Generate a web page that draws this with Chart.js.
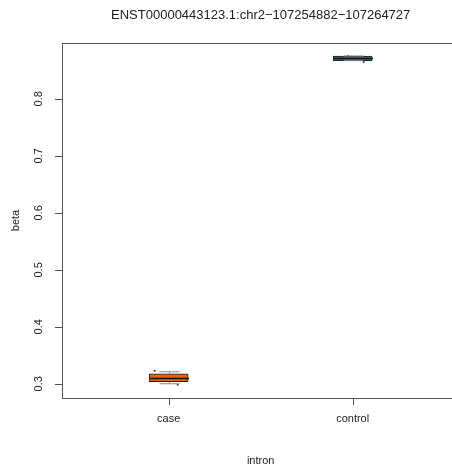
<!DOCTYPE html>
<html>
<head>
<meta charset="utf-8">
<script src="https://cdn.jsdelivr.net/npm/chart.js@4.4.1/dist/chart.umd.min.js"></script>
<style>
  html, body { margin: 0; padding: 0; background: #fff; overflow: hidden; }
</style>
</head>
<body>
<canvas id="boxChart" width="452" height="468"></canvas>
<script>
// data
const groups = ['case', 'control'];
const lowerWhisker = [0.300, 0.867];
const q1 = [0.3035, 0.867];
const median = [0.3105, 0.8717];
const q3 = [0.3175, 0.8752];
const upperWhisker = [0.321, 0.8752];
const pointX = [0.924, 1.049, 1.973, 2.06];
const pointY = [0.3227, 0.2983, 0.8752, 0.8647];
const yTicks = [0.3, 0.4, 0.5, 0.6, 0.7, 0.8];
const boxColors = ['#E3630F', '#13857D'];

const titleText = 'ENST00000443123.1:chr2\u2212107254882\u2212107264727';
const FONT = '"Liberation Sans", Arial, sans-serif';

// whiskers, caps, median line
const boxExtras = {
  id: 'boxExtras',
  afterDatasetsDraw(chart) {
    const { ctx, scales: { x, y } } = chart;
    ctx.save();
    groups.forEach((g, i) => {
      const cx = Math.round(x.getPixelForValue(i + 1)) + 0.5;
      ctx.strokeStyle = '#8a8a8a';
      ctx.lineWidth = 1;
      ctx.beginPath();
      ctx.moveTo(cx, y.getPixelForValue(q3[i]));
      ctx.lineTo(cx, y.getPixelForValue(upperWhisker[i]));
      ctx.moveTo(cx, y.getPixelForValue(q1[i]));
      ctx.lineTo(cx, y.getPixelForValue(lowerWhisker[i]));
      ctx.moveTo(cx - 10, y.getPixelForValue(upperWhisker[i]));
      ctx.lineTo(cx + 10, y.getPixelForValue(upperWhisker[i]));
      ctx.moveTo(cx - 10, y.getPixelForValue(lowerWhisker[i]));
      ctx.lineTo(cx + 10, y.getPixelForValue(lowerWhisker[i]));
      ctx.stroke();
      const my = Math.round(y.getPixelForValue(median[i])) + 0.5;
      ctx.strokeStyle = '#111';
      ctx.lineWidth = 1.5;
      ctx.beginPath();
      ctx.moveTo(cx - 19.5, my);
      ctx.lineTo(cx + 19.5, my);
      ctx.stroke();
    });
    ctx.restore();
  }
};

// R-style frame (right side falls outside the picture), ticks and labels
const rAxes = {
  id: 'rAxes',
  afterDraw(chart) {
    const { ctx, chartArea: a, scales: { x, y } } = chart;
    ctx.save();
    // keep the strip inside the right edge clean
    ctx.fillStyle = '#fff';
    ctx.fillRect(a.right - 4, a.top + 1, 4, a.bottom - a.top - 1);

    ctx.fillStyle = '#555';
    ctx.fillRect(a.left, a.top, a.right - a.left, 1);
    ctx.fillRect(a.left, a.top, 1, a.bottom - a.top + 1);
    ctx.fillRect(a.left, a.bottom, a.right - a.left, 1);
    yTicks.forEach(v => {
      ctx.fillRect(a.left - 7, Math.round(y.getPixelForValue(v)), 7, 1);
    });
    groups.forEach((g, i) => {
      ctx.fillRect(Math.round(x.getPixelForValue(i + 1)), a.bottom, 1, 7);
    });

    ctx.fillStyle = '#222';
    ctx.font = '11px ' + FONT;
    ctx.textAlign = 'center';
    ctx.textBaseline = 'middle';
    yTicks.forEach(v => {
      ctx.save();
      ctx.translate(39, y.getPixelForValue(v));
      ctx.rotate(-Math.PI / 2);
      ctx.fillText(v.toFixed(1), 0, 0);
      ctx.restore();
    });
    groups.forEach((g, i) => {
      ctx.fillText(g, x.getPixelForValue(i + 1), 419);
    });

    const midX = x.getPixelForValue(1.5);
    ctx.fillText('intron', midX, 461);
    ctx.save();
    ctx.translate(16, (a.top + a.bottom) / 2);
    ctx.rotate(-Math.PI / 2);
    ctx.fillText('beta', 0, 0);
    ctx.restore();

    ctx.font = '13px ' + FONT;
    ctx.fillText(titleText, midX, 15);
    ctx.restore();
  }
};

new Chart(document.getElementById('boxChart'), {
  type: 'bar',
  data: {
    datasets: [
      {
        type: 'scatter',
        order: 0,
        data: pointX.map((v, i) => ({ x: v, y: pointY[i] })),
        pointRadius: 1,
        pointHoverRadius: 1,
        pointBorderWidth: 0,
        backgroundColor: '#333'
      },
      {
        type: 'bar',
        order: 1,
        data: groups.map((g, i) => ({ x: i + 1, y: [q1[i], q3[i]] })),
        backgroundColor: boxColors,
        borderColor: '#222',
        borderWidth: 1,
        borderSkipped: false,
        barThickness: 39
      }
    ]
  },
  options: {
    responsive: false,
    animation: false,
    devicePixelRatio: 1,
    layout: { autoPadding: false, padding: { left: 62, right: 0, top: 43, bottom: 70 } },
    scales: {
      x: { type: 'linear', min: 0.42, max: 2.54, offset: false, display: false },
      y: { type: 'linear', min: 0.275, max: 0.898, display: false }
    },
    plugins: {
      legend: { display: false },
      tooltip: { enabled: false },
      title: { display: false }
    }
  },
  plugins: [boxExtras, rAxes]
});
</script>
</body>
</html>
